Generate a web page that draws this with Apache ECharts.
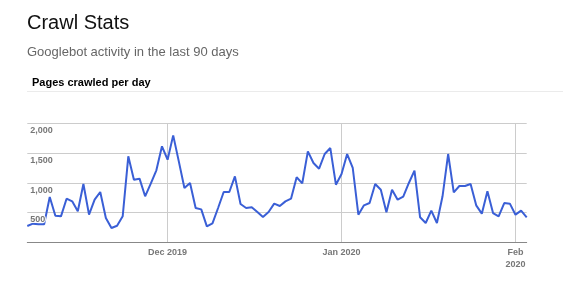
<!DOCTYPE html>
<html>
<head>
<meta charset="utf-8">
<script src="https://cdn.jsdelivr.net/npm/echarts@6/dist/echarts.min.js"></script>
<style>
html,body{margin:0;padding:0;background:#fff;}
#chart{width:563px;height:283px;}
</style>
</head>
<body>
<div id="chart"></div>
<script>
// Data: pages crawled per day, Nov 6 2019 – Feb 3 2020 (90 days)
var startDate = '2019-11-06';
var pagesCrawled = [
  270, 310, 300, 300, 760, 444, 433, 731, 686, 518,
  979, 461, 714, 844, 405, 236, 275, 433, 1446, 1052,
  1069, 771, 985, 1210, 1615, 1389, 1800, 1361, 911, 996,
  574, 551, 264, 315, 574, 844, 844, 1108, 641, 574,
  585, 506, 422, 506, 647, 608, 686, 731, 1092, 990,
  1530, 1333, 1237, 1485, 1586, 967, 1148, 1485, 1249, 461,
  619, 658, 979, 883, 501, 883, 714, 765, 996, 1204,
  417, 321, 529, 321, 771, 1485, 838, 945, 945, 979,
  619, 478, 855, 489, 433, 658, 647, 461, 529, 417
];
var tickDates = ['2019-12-01', '2020-01-01', '2020-02-01'];
var tickLabels = ['Dec 2019', 'Jan 2020', 'Feb\n2020'];
var yTicks = [0, 500, 1000, 1500, 2000];

// build day categories
var categories = [];
(function () {
  var d = new Date(startDate + 'T00:00:00Z');
  for (var i = 0; i < pagesCrawled.length; i++) {
    categories.push(d.toISOString().slice(0, 10));
    d.setUTCDate(d.getUTCDate() + 1);
  }
})();
var tickIndex = tickDates.map(function (t) { return categories.indexOf(t); });
function isTick(idx) { return tickIndex.indexOf(idx) >= 0; }

var chart = echarts.init(document.getElementById('chart'), null, {renderer: 'canvas'});
var labelFont = {color: '#777', fontSize: 9, fontWeight: 'bold', fontFamily: 'Liberation Sans, Arial, sans-serif'};

chart.setOption({
  animation: false,
  backgroundColor: '#fff',
  title: [
    {text: 'Crawl Stats', left: 27, top: 13, padding: 0,
     textStyle: {fontSize: 20, fontWeight: 'normal', color: '#111', fontFamily: 'Liberation Sans, Arial, sans-serif'}},
    {text: 'Googlebot activity in the last 90 days', left: 27, top: 46, padding: 0,
     textStyle: {fontSize: 13, fontWeight: 'normal', color: '#666', fontFamily: 'Liberation Sans, Arial, sans-serif'}},
    {text: 'Pages crawled per day', left: 32, top: 77, padding: 0,
     textStyle: {fontSize: 11, fontWeight: 'bold', color: '#000', fontFamily: 'Liberation Sans, Arial, sans-serif'}}
  ],
  graphic: [
    {type: 'line', shape: {x1: 27, y1: 91.5, x2: 563, y2: 91.5}, style: {stroke: '#ebebeb', lineWidth: 1}}
  ],
  grid: {left: 27.3, right: 36.3, top: 123.5, bottom: 41, containLabel: false},
  xAxis: {
    type: 'category',
    data: categories,
    boundaryGap: false,
    axisLine: {show: true, lineStyle: {color: '#888', width: 1}},
    axisTick: {show: false},
    axisLabel: Object.assign({
      interval: function (idx) { return isTick(idx); },
      formatter: function (v) { var k = tickDates.indexOf(v); return k >= 0 ? tickLabels[k] : ''; },
      margin: 5, lineHeight: 12, hideOverlap: false
    }, labelFont),
    splitLine: {show: true, interval: function (idx) { return isTick(idx); }, lineStyle: {color: '#ccc', width: 1}}
  },
  yAxis: [
    {
      type: 'value', min: yTicks[0], max: yTicks[yTicks.length - 1], interval: 500,
      axisLine: {show: false}, axisTick: {show: false}, axisLabel: {show: false},
      splitLine: {show: true, lineStyle: {color: '#ccc', width: 1}}
    },
    {
      type: 'value', position: 'left', min: yTicks[0], max: yTicks[yTicks.length - 1], interval: 500,
      z: 10,
      axisLine: {show: false}, axisTick: {show: false}, splitLine: {show: false},
      axisLabel: Object.assign({
        inside: true, margin: 3, align: 'left', verticalAlign: 'top', padding: [3, 0, 0, 0],
        textBorderColor: '#fff', textBorderWidth: 2,
        formatter: function (v) { return v === 0 ? '' : v.toLocaleString('en-US'); }
      }, labelFont)
    }
  ],
  series: [{
    type: 'line',
    data: pagesCrawled,
    yAxisIndex: 0,
    showSymbol: false,
    symbol: 'none',
    lineStyle: {color: '#3a5fd6', width: 2},
    itemStyle: {color: '#3a5fd6'}
  }]
});
</script>
</body>
</html>
